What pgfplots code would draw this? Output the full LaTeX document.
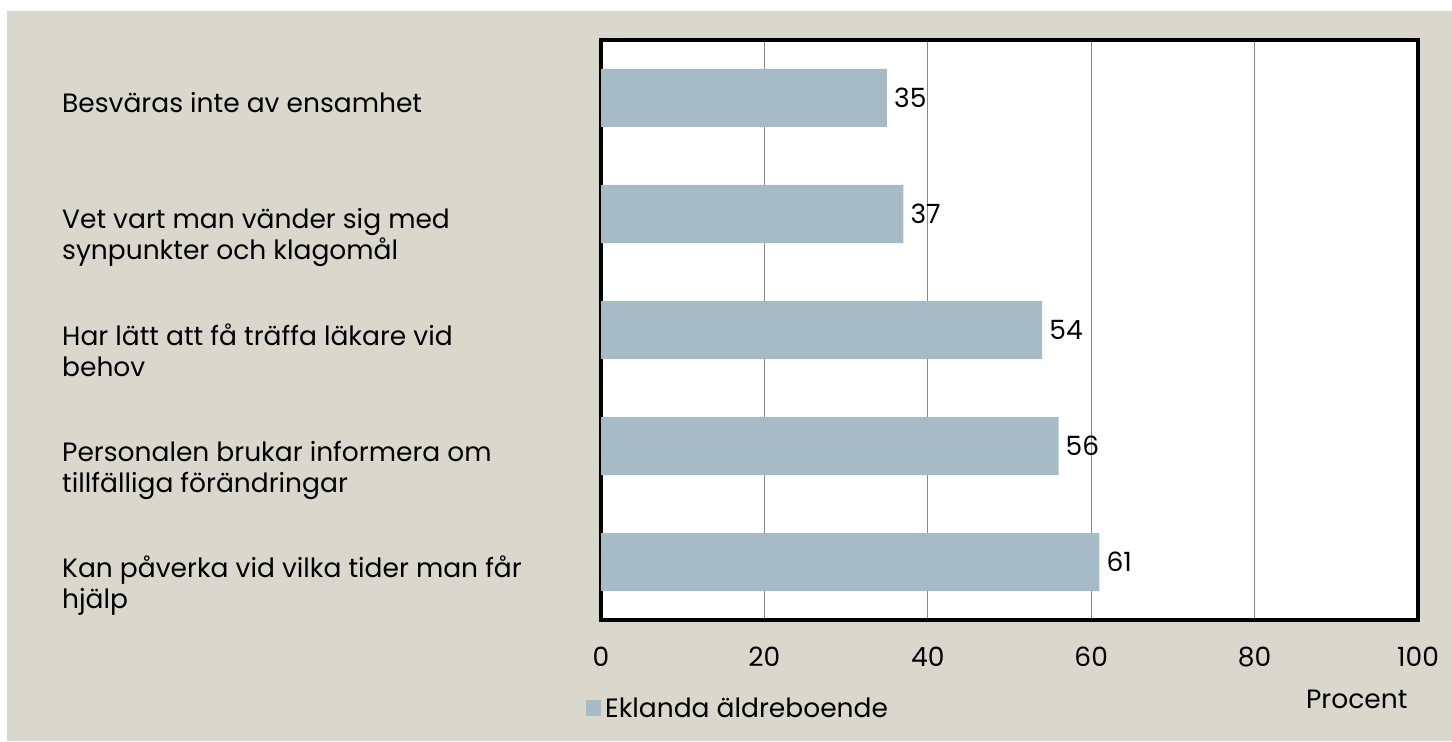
\documentclass[border=0pt]{standalone}
\usepackage{fontspec}
\setmainfont{Poppins}
\usepackage{pgfplots}
\pgfplotsset{compat=1.18}
\definecolor{bg}{HTML}{DAD8CC}
\definecolor{barc}{HTML}{A7BBC6}
\definecolor{gridc}{HTML}{888888}
\newcommand\f{\fontsize{26.5bp}{31bp}\selectfont}
\newcommand\two[2]{\begin{tabular}[t]{@{}l@{}}#1\\#2\end{tabular}}
\begin{document}
\begin{tikzpicture}[x=1bp,y=1bp]
\path[use as bounding box] (0,0) rectangle (1452,741);
\fill[bg] (7,0) rectangle (1452,730);
\begin{axis}[
  at={(601bp,121bp)}, anchor=south west,
  scale only axis, width=817bp, height=580bp,
  xbar, bar width=58bp,
  xmin=0, xmax=100, ymin=-0.5, ymax=4.5, y dir=reverse,
  xtick={0,20,40,60,80,100},
  ytick={0,1,2,3,4},
  yticklabels={
    {Besväras inte av ensamhet},
    {\two{Vet vart man vänder sig med}{synpunkter och klagomål}},
    {\two{Har lätt att få träffa läkare vid}{behov}},
    {\two{Personalen brukar informera om}{tillfälliga förändringar}},
    {\two{Kan påverka vid vilka tider man får}{hjälp}}},
  yticklabel style={font=\f, anchor=base west, inner sep=0pt, xshift=-539bp, yshift=-15bp},
  xticklabel style={font=\f, anchor=center, inner sep=0pt, yshift=-37bp},
  /pgf/number format/assume math mode=true,
  axis background/.style={fill=white},
  axis line style={line width=4bp, black},
  xmajorgrids, grid style={gridc, line width=1bp},
  major tick length=0pt, tick style={draw=none},
  nodes near coords,
  nodes near coords style={font=\f, anchor=west, inner sep=0pt, xshift=7bp, text=black},
  xlabel={Procent},
  every axis x label/.style={at={(axis description cs:0.925,-0.136)}, anchor=center, font=\f},
  legend style={at={(axis description cs:-0.0184,-0.152)}, anchor=west, draw=none, fill=none, inner sep=0pt, font=\f,
    nodes={inner xsep=4bp}},
  legend image code/.code={\fill[barc] (0bp,-8bp) rectangle (15bp,8bp);},
  legend cell align=left,
]
\addplot[fill=barc, draw=none] coordinates {(35,0) (37,1) (54,2) (56,3) (61,4)};
\addlegendentry{Eklanda äldreboende}
\end{axis}
\end{tikzpicture}
\end{document}
